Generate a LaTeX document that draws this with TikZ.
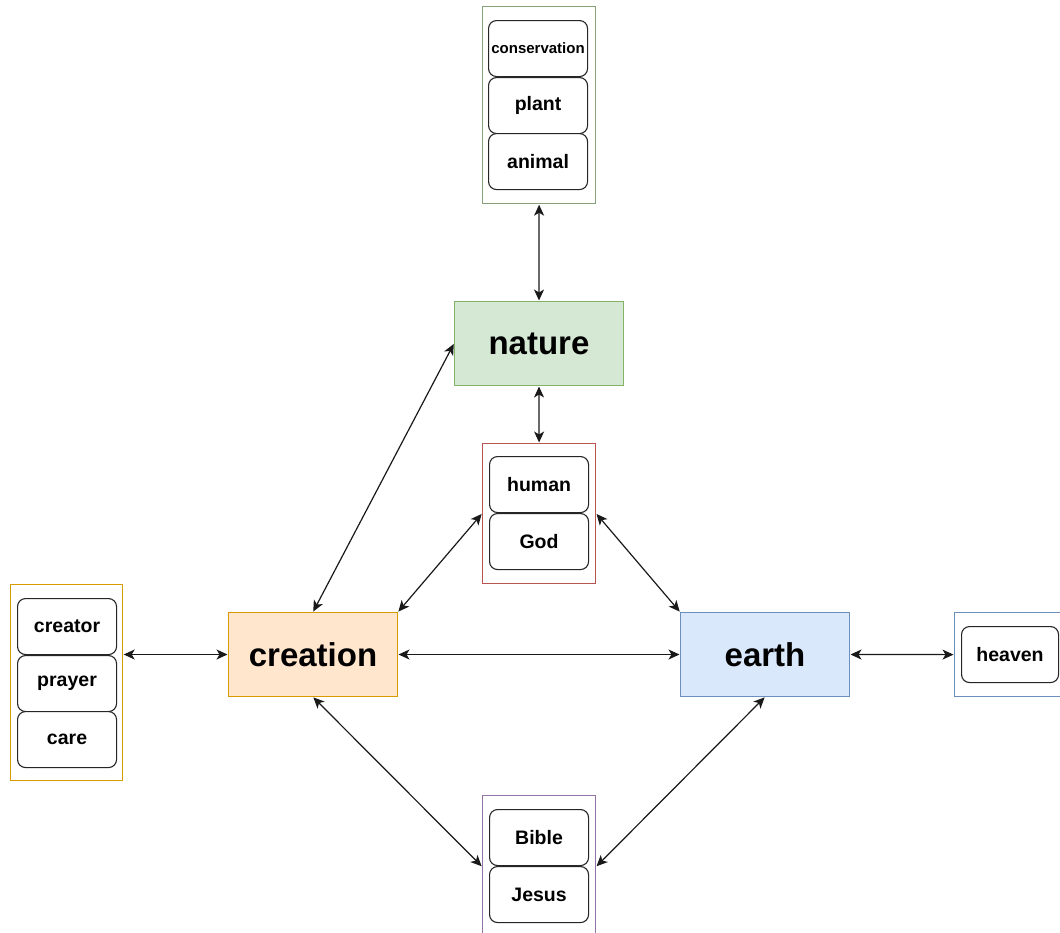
\documentclass[tikz,border=0pt]{standalone}
\usepackage{fontspec}
\setmainfont{Liberation Sans}
\usetikzlibrary{arrows.meta}
\definecolor{gfill}{HTML}{D5E8D4}
\definecolor{gline}{HTML}{82B366}
\definecolor{tline}{HTML}{86A078}
\definecolor{ofill}{HTML}{FFE6CC}
\definecolor{oline}{HTML}{D79B00}
\definecolor{bfill}{HTML}{DAE8FC}
\definecolor{bline}{HTML}{6C8EBF}
\definecolor{rline}{HTML}{B85450}
\definecolor{pline}{HTML}{9673A6}
\begin{document}
\begin{tikzpicture}[x=1pt,y=-1pt,
  grp/.style={draw, fill=white, line width=1.2pt, anchor=north west, inner sep=0pt},
  item/.style={draw=black!85, fill=white, line width=1.1pt, rounded corners=8pt, anchor=north west,
    minimum width=99pt, minimum height=56pt, inner sep=0pt, font=\bfseries\fontsize{19.5}{22}\selectfont},
  main/.style={draw, line width=1pt, anchor=north west, minimum width=169pt, minimum height=84pt,
    inner sep=0pt, font=\bfseries\fontsize{33}{38}\selectfont},
  arr/.style={{Stealth[length=11pt,width=10pt,inset=3pt]}-{Stealth[length=11pt,width=10pt,inset=3pt]}, line width=1.2pt, black!90, shorten <=0.5pt, shorten >=0.5pt}]
\useasboundingbox (0,0) rectangle (1060,932);
% containers
\node[grp, draw=tline, minimum width=113pt, minimum height=197pt] (topgrp) at (482,6) {};
\node[grp, draw=rline, minimum width=113pt, minimum height=140pt] (midgrp) at (482,443) {};
\node[grp, draw=oline, minimum width=112pt, minimum height=196pt] (leftgrp) at (10,584) {};
\node[grp, draw=bline, minimum width=114pt, minimum height=84pt] (rightgrp) at (954,612) {};
\node[grp, draw=pline, minimum width=113pt, minimum height=142pt] (botgrp) at (482,795) {};
% items
\node[item, font=\bfseries\fontsize{15}{18}\selectfont] (conservation) at (488,20) {conservation};
\node[item] (plant) at (488,77) {plant};
\node[item] (animal) at (488,133) {animal};
\node[item] (human) at (489,456) {human};
\node[item] (god) at (489,513) {God};
\node[item] (creator) at (17,598) {creator};
\node[item] (prayer) at (17,655) {prayer};
\node[item] (care) at (17,711) {care};
\node[item, minimum width=97pt] (heaven) at (961,626) {heaven};
\node[item] (bible) at (489,809) {Bible};
\node[item] (jesus) at (489,866) {Jesus};
% main nodes
\node[main, draw=gline, fill=gfill] (nature) at (454,301) {nature};
\node[main, draw=oline, fill=ofill] (creation) at (228,612) {creation};
\node[main, draw=bline, fill=bfill] (earth) at (680,612) {earth};
% connectors
\draw[arr] (topgrp.south) -- (nature.north);
\draw[arr] (nature.south) -- (midgrp.north);
\draw[arr] (creation.north) -- (nature.west);
\draw[arr] (creation.north east) -- (midgrp.west);
\draw[arr] (midgrp.east) -- (earth.north west);
\draw[arr] (creation.east) -- (earth.west);
\draw[arr] (leftgrp.east |- creation.west) -- (creation.west);
\draw[arr] (earth.east) -- (rightgrp.west);
\draw[arr] (creation.south) -- (botgrp.west);
\draw[arr] (earth.south) -- (botgrp.east);
\end{tikzpicture}
\end{document}
